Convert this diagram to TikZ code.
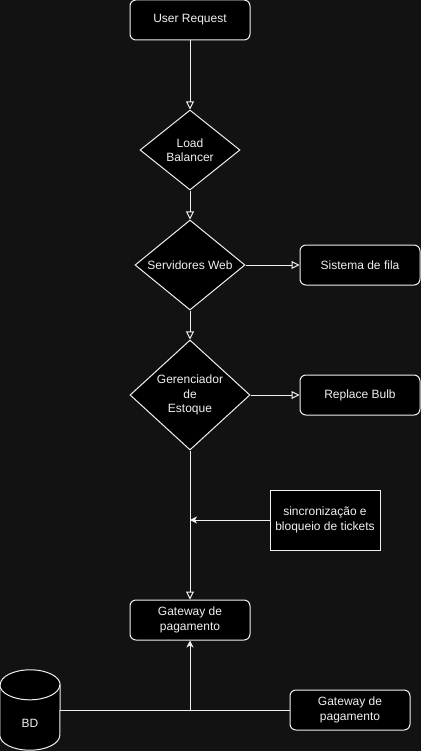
\documentclass[tikz,border=0pt]{standalone}
\usepackage{fontspec}
\setmainfont{Liberation Sans}
\usepackage{xcolor}
\usetikzlibrary{shapes, arrows.meta, calc, positioning, shapes.geometric}
\definecolor{drawbg}{RGB}{18, 18, 18}
\definecolor{drawfg}{RGB}{240, 240, 240}

\begin{document}
\begin{tikzpicture}[x=1pt, y=-1pt, font=\fontsize{12}{14.4}\selectfont]%{{{
        \fill [drawbg] (0, 0) rectangle (421, 751);
        \useasboundingbox (0, 0) rectangle (421, 751);

        \coordinate (R) at (190, 20);

        \tikzstyle{b} = [draw=drawfg, fill=black, text=drawfg, line width=1pt, rounded corners=6pt, minimum width=120, minimum height=40, inner sep=0pt, align=center];
        \tikzstyle{s} = [draw=drawfg, fill=black, text=drawfg, line width=1pt, minimum width=110, minimum height=60, inner sep=0pt, align=center];
        \tikzstyle{d} = [diamond, draw=drawfg, fill=black, text=drawfg, line width=1pt, inner sep=0pt, align=center];

        % main flow
        \node [b] (req) at (R) {User Request};
        \node [d, minimum width=100, minimum height=80, shape aspect=1.25] (lb) at ($(R) + (0, 130)$) {Load\\Balancer};
        \node [d, minimum width=110, minimum height=90, shape aspect=1.22] (web) at ($(R) + (0, 245)$) {Servidores Web};
        \node [d, minimum width=120, minimum height=110, shape aspect=1.09] (ger) at ($(R) + (0, 375)$) {Gerenciador\\de\\Estoque};
        \node [b] (gwa) at ($(R) + (0, 600)$) {Gateway de\\pagamento};

        % side boxes
        \node [b] (fila) at ($(web) + (170, 0)$) {Sistema de fila};
        \node [b] (bulb) at ($(ger) + (170, 0)$) {Replace Bulb};
        \node [s] (sync) at ($(ger) + (135, 125)$) {sincronização e\\bloqueio de tickets};
        \node [b] (gwb) at ($(gwa) + (160, 90)$) {Gateway de\\pagamento};

        % database
        \node [minimum width=60, minimum height=80, inner sep=0pt] (bd) at ($(gwa) + (-160, 90)$) {};
        \tikzstyle{cyl} = [draw=drawfg, fill=black, line width=1pt];
        \draw [cyl] ($(bd.north west) + (0, 15)$) -- ($(bd.south west) + (0, -15)$)
            arc [start angle=180, end angle=360, x radius=30pt, y radius=15pt]
            -- ($(bd.north east) + (0, 15)$)
            arc [start angle=0, end angle=180, x radius=30pt, y radius=15pt] -- cycle;
        \draw [draw=drawfg, line width=1pt] ($(bd.north west) + (0, 15)$)
            arc [start angle=180, end angle=360, x radius=30pt, y radius=15pt];
        \node [text=drawfg] (bdtext) at ($(bd) + (0, 13)$) {BD};

        % connectors
        \tikzstyle{a} = [draw=drawfg, line width=1pt, -{Triangle[open, length=8pt, width=8pt]}];
        \tikzstyle{c} = [draw=drawfg, line width=1pt, -{Stealth[length=7pt, width=7pt, inset=2pt]}];

        \draw [a] (req) -- (lb);
        \draw [a] (lb) -- (web);
        \draw [a] (web) -- (ger);
        \draw [a] (web) -- (fila);
        \draw [a] (ger) -- (bulb);
        \draw [a] (ger) -- (gwa);

        \coordinate (S) at (ger |- sync.west);
        \draw [c] (sync) -- (S);

        \coordinate (J) at (gwa |- bd.east);
        \draw [draw=drawfg, line width=1pt] (bd) -- (gwb);
        \draw [c] (J) -- (gwa);
    \end{tikzpicture}
\end{document}
